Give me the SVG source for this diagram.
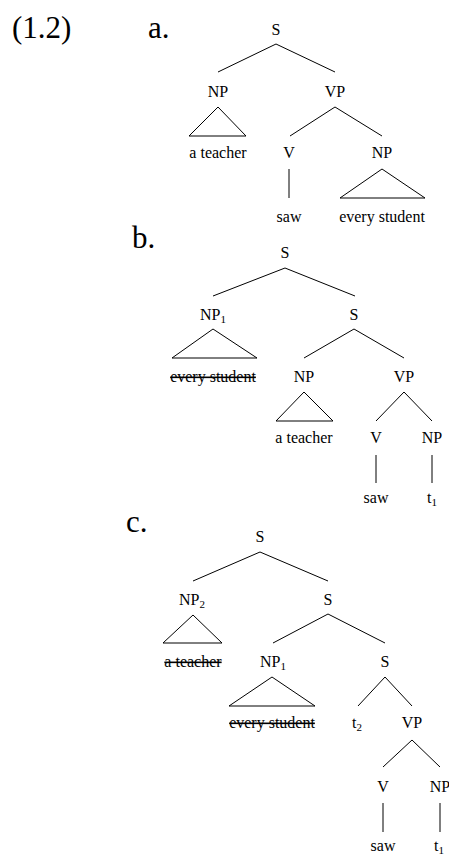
<svg xmlns="http://www.w3.org/2000/svg" width="449" height="855" viewBox="0 0 449 855">
<style>
text{font-family:"Liberation Serif","Times New Roman",serif;fill:#000;text-anchor:middle;font-size:16px}
.big{font-size:31px;text-anchor:start}
.sub{font-size:11px}
.del{text-decoration:line-through}
line,polygon{stroke:#000;stroke-width:1;fill:none}
</style>
<rect width="449" height="855" fill="#fff"/>
<text class="big" x="12" y="38">(1.2)</text>
<g id="tree-a">
<text class="big" x="148" y="38">a.</text>
<g id="a-S"><text x="276" y="35">S</text></g>
<g id="a-NP"><text x="218" y="97">NP</text><polygon points="218,107 189,136 246,136"/><text x="218" y="158">a teacher</text></g>
<g id="a-VP"><text x="335" y="97">VP</text></g>
<g id="a-V"><text x="289" y="158">V</text></g>
<g id="a-saw"><text x="289" y="222">saw</text></g>
<g id="a-NP2"><text x="382" y="158">NP</text><polygon points="382,169 340,198 425,198"/><text x="382" y="222">every student</text></g>
<g id="a-edges">
<line x1="276" y1="44" x2="218" y2="72"/><line x1="276" y1="44" x2="335" y2="72"/>
<line x1="335" y1="107" x2="290" y2="136"/><line x1="335" y1="107" x2="382" y2="136"/>
<line x1="289" y1="169" x2="289" y2="198"/>
</g>
</g>
<g id="tree-b">
<text class="big" x="132" y="248">b.</text>
<g id="b-S"><text x="285" y="258">S</text></g>
<g id="b-NP1"><text x="213" y="320">NP<tspan class="sub" dy="3">1</tspan></text><polygon points="213,329 172,358 257,358"/><text class="del" x="213" y="382">every student</text></g>
<g id="b-S2"><text x="354" y="320">S</text></g>
<g id="b-NP"><text x="304" y="382">NP</text><polygon points="304,392 276,421 333,421"/><text x="304" y="443">a teacher</text></g>
<g id="b-VP"><text x="404" y="382">VP</text></g>
<g id="b-V"><text x="376" y="443">V</text></g>
<g id="b-NP3"><text x="432" y="443">NP</text></g>
<g id="b-saw"><text x="376" y="503">saw</text></g>
<g id="b-t1"><text x="432" y="503">t<tspan class="sub" dy="3">1</tspan></text></g>
<g id="b-edges">
<line x1="285" y1="268" x2="213" y2="296"/><line x1="285" y1="268" x2="355" y2="296"/>
<line x1="354" y1="329" x2="304" y2="358"/><line x1="354" y1="329" x2="404" y2="358"/>
<line x1="404" y1="392" x2="376" y2="421"/><line x1="404" y1="392" x2="432" y2="421"/>
<line x1="376" y1="455" x2="376" y2="483"/><line x1="432" y1="455" x2="432" y2="483"/>
</g>
</g>
<g id="tree-c">
<text class="big" x="126" y="532">c.</text>
<g id="c-S"><text x="260" y="542">S</text></g>
<g id="c-NP2"><text x="192" y="605">NP<tspan class="sub" dy="3">2</tspan></text><polygon points="193,615 163,643 222,643"/><text class="del" x="193" y="667">a teacher</text></g>
<g id="c-S2"><text x="328" y="605">S</text></g>
<g id="c-NP1"><text x="273" y="667">NP<tspan class="sub" dy="3">1</tspan></text><polygon points="272,677 229,706 315,706"/><text class="del" x="272" y="728">every student</text></g>
<g id="c-S3"><text x="385" y="667">S</text></g>
<g id="c-t2"><text x="357" y="728">t<tspan class="sub" dy="3">2</tspan></text></g>
<g id="c-VP"><text x="412" y="728">VP</text></g>
<g id="c-V"><text x="383" y="792">V</text></g>
<g id="c-NP3"><text x="440" y="792">NP</text></g>
<g id="c-saw"><text x="383" y="851">saw</text></g>
<g id="c-t1"><text x="439" y="851">t<tspan class="sub" dy="3">1</tspan></text></g>
<g id="c-edges">
<line x1="260" y1="552" x2="193" y2="581"/><line x1="260" y1="552" x2="328" y2="581"/>
<line x1="328" y1="614" x2="273" y2="643"/><line x1="328" y1="614" x2="385" y2="643"/>
<line x1="385" y1="677" x2="358" y2="706"/><line x1="385" y1="677" x2="412" y2="706"/>
<line x1="412" y1="740" x2="383" y2="767"/><line x1="412" y1="740" x2="440" y2="767"/>
<line x1="383" y1="803" x2="383" y2="832"/><line x1="440" y1="803" x2="440" y2="832"/>
</g>
</g>
</svg>
